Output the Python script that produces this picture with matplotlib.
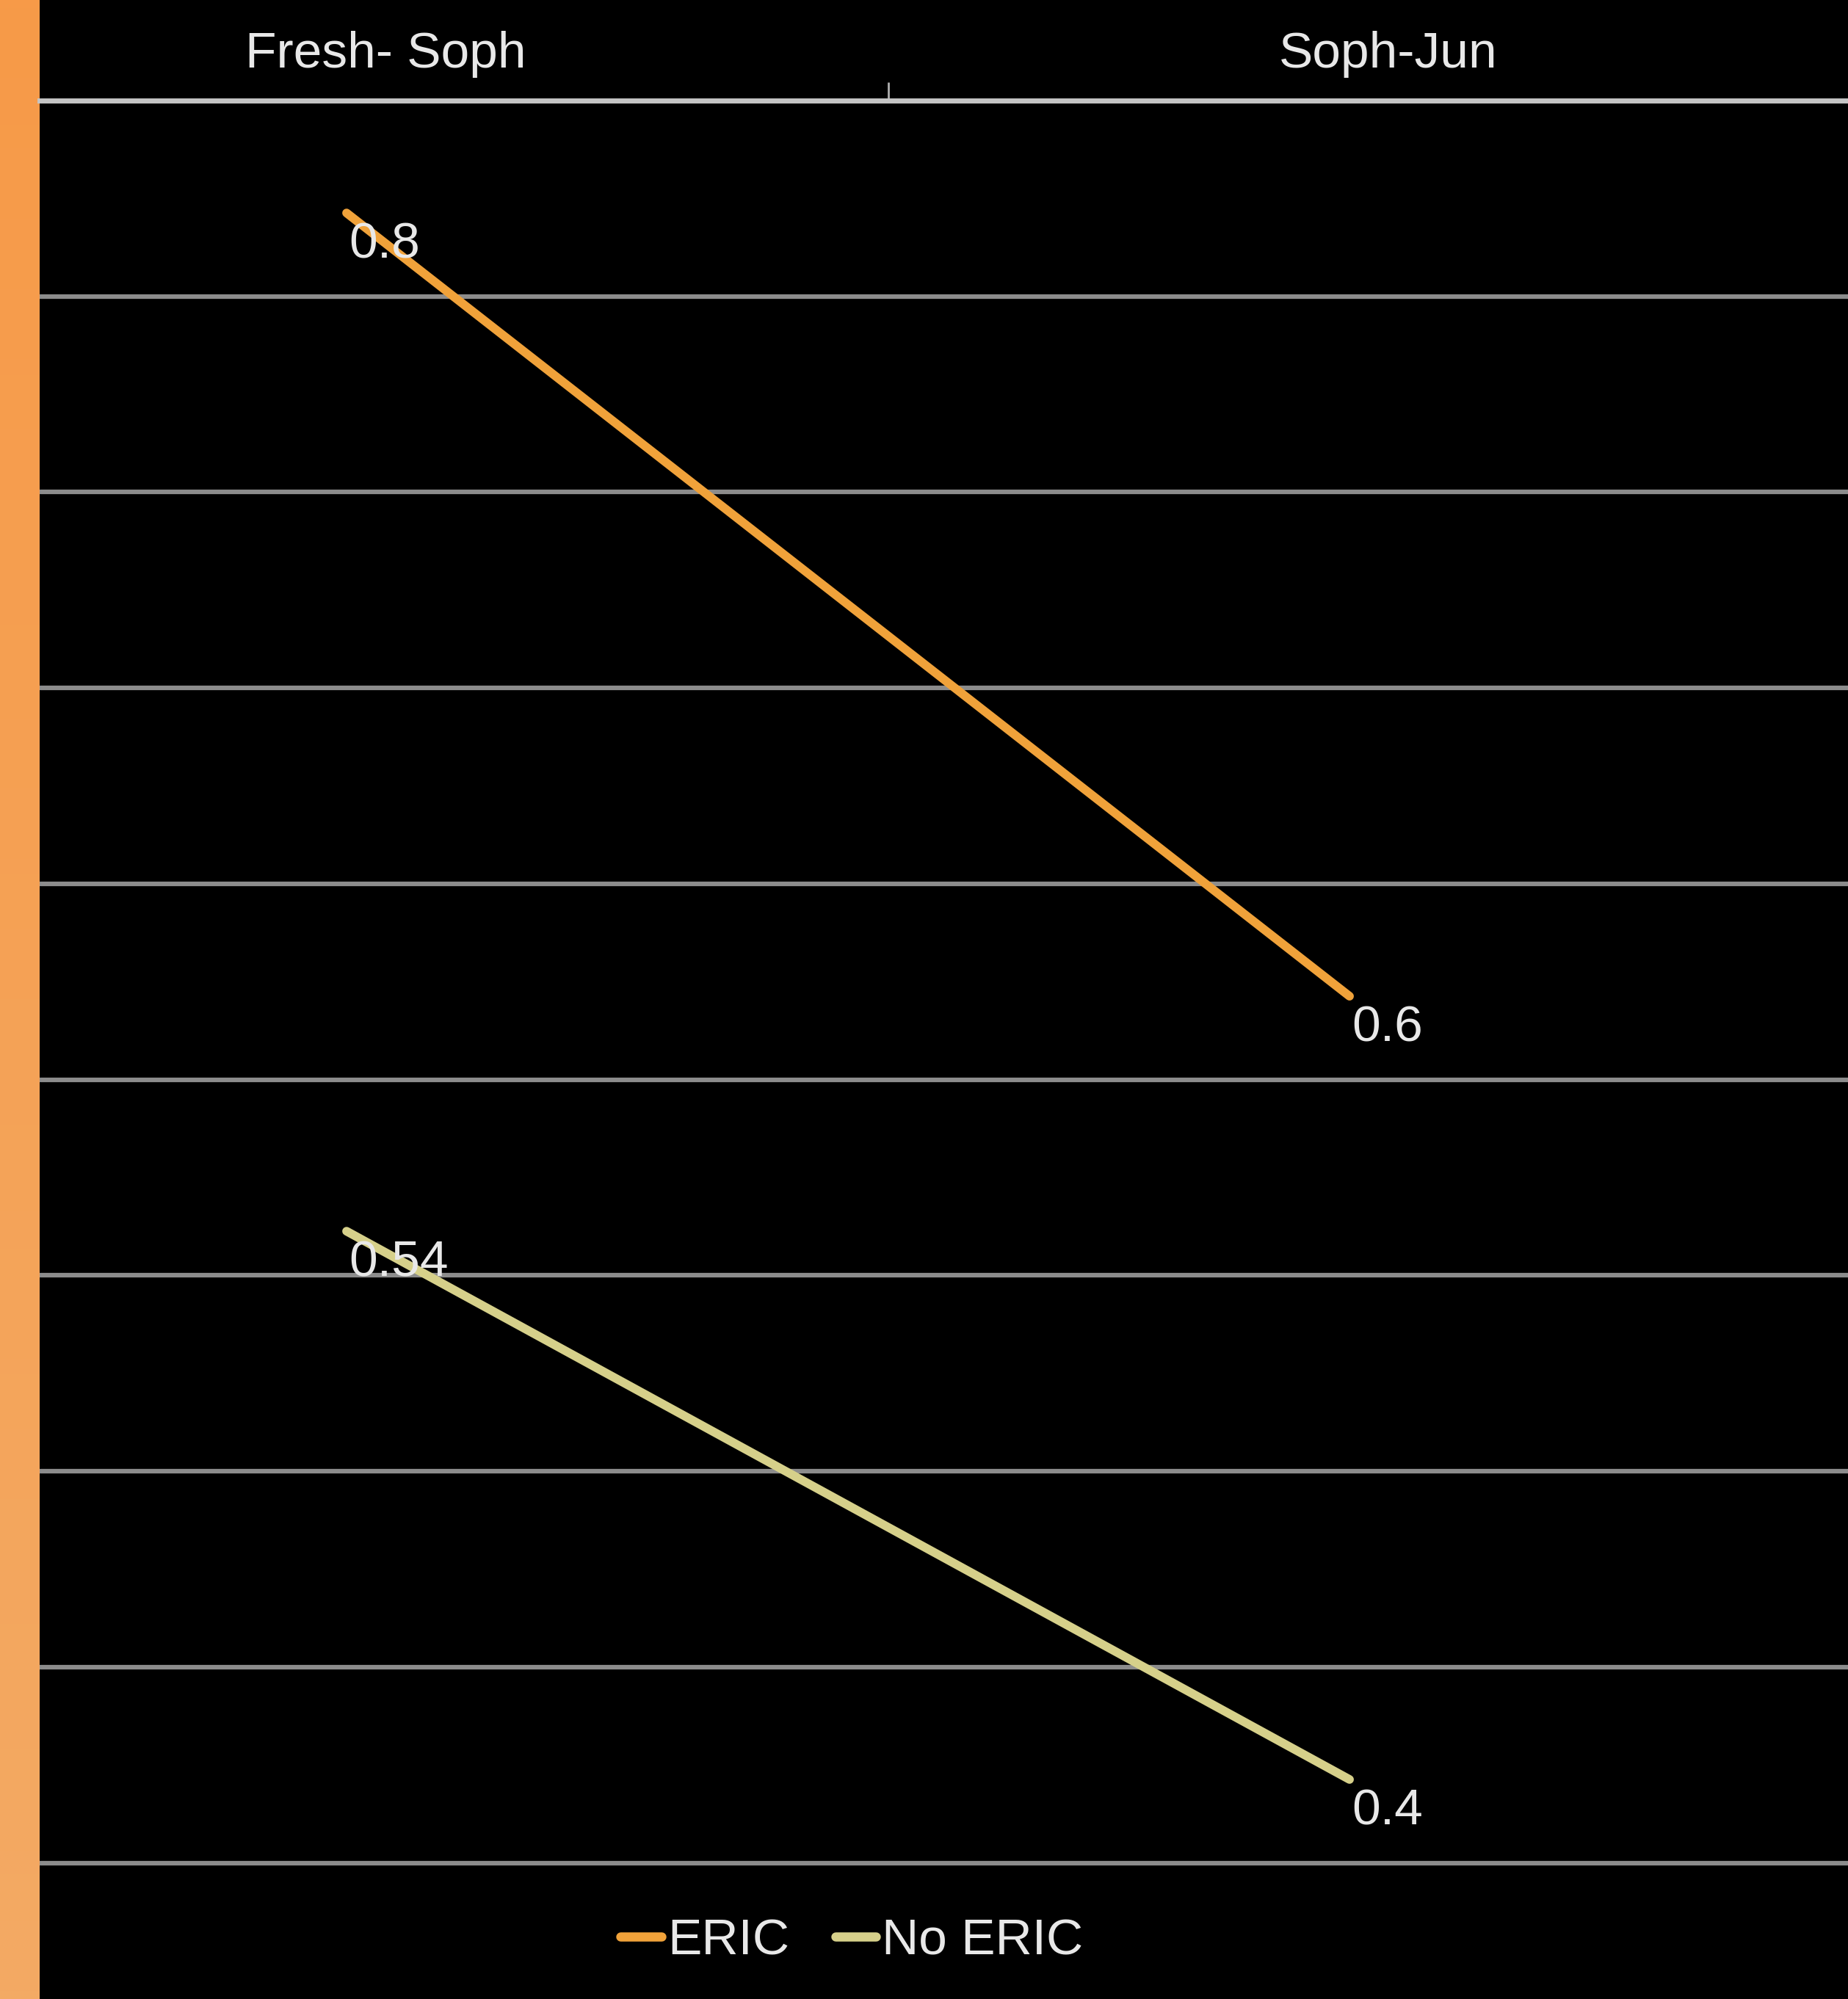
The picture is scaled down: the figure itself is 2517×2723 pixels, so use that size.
import numpy as np
import matplotlib
matplotlib.use("Agg")
import matplotlib.pyplot as plt
import matplotlib.transforms as mtransforms

plt.rcParams['font.family'] = ['Liberation Sans Narrow', 'Liberation Sans', 'DejaVu Sans']

# data
categories = ["Fresh- Soph", "Soph-Jun"]
eric = [0.8, 0.6]
no_eric = [0.54, 0.4]
eric_labels = ["0.8", "0.6"]
no_eric_labels = ["0.54", "0.4"]

W, H, DPI = 2517, 2723, 100
fig = plt.figure(figsize=(W / DPI, H / DPI), dpi=DPI, facecolor="black")

# orange strip on the left, slight gradient
strip = fig.add_axes([0, 0, 54 / W, 1])
top_c = np.array([247, 154, 72]) / 255.0
bot_c = np.array([243, 170, 100]) / 255.0
t = np.linspace(0, 1, 256)[:, None, None]
grad = top_c * (1 - t) + bot_c * t
strip.imshow(grad, aspect="auto", extent=[0, 1, 0, 1])
strip.axis("off")

# plot area: top edge is the category axis line
ax = fig.add_axes([54 / W, (H - 2560) / H, 1 - 54 / W, (2560 - 137) / H])
ax.set_facecolor("black")

txt_c = "#E8E8E8"
fs = 50

x = np.arange(len(categories))
ax.plot(x, eric, color="#F0A23A", lw=8.5, solid_capstyle="round", label="ERIC", zorder=3)
ax.plot(x, no_eric, color="#D6D08A", lw=8.5, solid_capstyle="round", label="No ERIC", zorder=3)

for xi, v, s in zip(x, eric, eric_labels):
    ax.annotate(s, (xi, v), xytext=(2, -31), textcoords="offset points",
                ha="left", va="center", color=txt_c, fontsize=fs, zorder=4)
for xi, v, s in zip(x, no_eric, no_eric_labels):
    ax.annotate(s, (xi, v), xytext=(2, -31), textcoords="offset points",
                ha="left", va="center", color=txt_c, fontsize=fs, zorder=4)

ylo, yhi = 0.3745, 0.8287
ax.set_ylim(ylo, yhi)
ax.set_xlim(-0.306, 1.497)

# horizontal gridlines every 0.05 down from the top axis line
for g in yhi - 0.05 * np.arange(1, 10):
    ax.axhline(g, color="#8C8C8C", lw=4.5, zorder=1)

for side in ["left", "right", "bottom"]:
    ax.spines[side].set_visible(False)
ax.spines["top"].set_color("#C4C4C4")
ax.spines["top"].set_linewidth(5)

ax.set_yticks([])
ax.xaxis.tick_top()
ax.set_xticks(x)
ax.set_xticklabels(categories, fontsize=fs, color=txt_c)
ax.set_xticks([0.54], minor=True)
ax.tick_params(axis="x", which="major", length=0, pad=22)
ax.tick_params(axis="x", which="minor", top=True, bottom=False, length=18, width=2, color="#B0B0B0")

shift = mtransforms.ScaledTranslation(53 / DPI, 0, fig.dpi_scale_trans)
for lbl in ax.get_xticklabels():
    lbl.set_transform(lbl.get_transform() + shift)

leg = fig.legend(loc="center", bbox_to_anchor=(0.461, 0.029), ncol=2, frameon=False,
                 fontsize=fs, handlelength=0.8, handletextpad=0.12, columnspacing=0.9,
                 labelcolor=txt_c)
for h in leg.get_lines():
    h.set_linewidth(9)

fig.savefig("out.png", dpi=DPI, facecolor="black")
